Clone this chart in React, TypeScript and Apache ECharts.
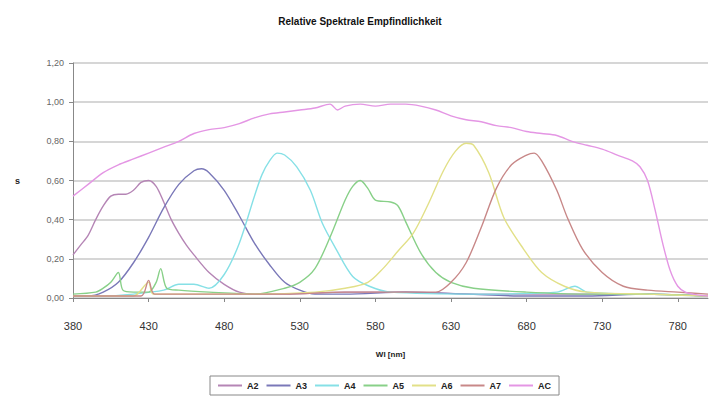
import { useEffect, useRef } from 'react'
import * as echarts from 'echarts'

type Pt = [number, number]

const seriesNames = ['A2', 'A3', 'A4', 'A5', 'A6', 'A7', 'AC']
const seriesColors = ['#b585b5', '#7a78b8', '#86e0e6', '#88d088', '#e2e088', '#c88888', '#e496e4']
const xTicks = [380, 430, 480, 530, 580, 630, 680, 730, 780]

const a2: Pt[] = [
  [380, 0.22], [385, 0.27], [390, 0.32], [395, 0.4], [400, 0.47], [405, 0.52], [410, 0.53],
  [415, 0.53], [420, 0.55], [425, 0.59], [430, 0.6], [435, 0.57], [440, 0.49], [445, 0.4],
  [450, 0.33], [455, 0.27], [460, 0.22], [470, 0.13], [480, 0.07], [490, 0.03], [500, 0.02],
  [520, 0.02], [560, 0.03], [600, 0.03], [650, 0.02], [700, 0.02], [750, 0.02], [800, 0.01],
]
const a3: Pt[] = [
  [380, 0.01], [390, 0.01], [400, 0.03], [410, 0.08], [420, 0.18], [430, 0.31], [440, 0.46],
  [450, 0.58], [460, 0.65], [465, 0.66], [470, 0.64], [480, 0.55], [490, 0.42], [500, 0.28],
  [510, 0.17], [520, 0.08], [530, 0.04], [540, 0.02], [560, 0.02], [600, 0.03], [640, 0.02],
  [680, 0.01], [720, 0.01], [760, 0.02], [800, 0.01],
]
const a4: Pt[] = [
  [380, 0.01], [400, 0.01], [420, 0.02], [440, 0.04], [450, 0.07], [460, 0.07], [470, 0.05],
  [480, 0.12], [490, 0.28], [500, 0.52], [505, 0.63], [510, 0.7], [515, 0.74], [520, 0.73],
  [528, 0.67], [537, 0.55], [545, 0.38], [554, 0.25], [565, 0.11], [576, 0.06], [590, 0.03],
  [650, 0.02], [700, 0.03], [712, 0.06], [720, 0.03], [760, 0.02], [800, 0.01],
]
const a5: Pt[] = [
  [380, 0.02], [395, 0.03], [400, 0.05], [405, 0.08], [410, 0.13], [413, 0.04], [420, 0.03],
  [430, 0.03], [435, 0.08], [438, 0.15], [442, 0.05], [450, 0.04], [470, 0.03], [500, 0.02],
  [520, 0.05], [530, 0.08], [540, 0.15], [550, 0.31], [560, 0.5], [565, 0.57], [570, 0.6],
  [575, 0.56], [580, 0.5], [590, 0.49], [595, 0.47], [600, 0.39], [610, 0.23], [620, 0.13],
  [630, 0.08], [645, 0.05], [680, 0.03], [720, 0.02], [760, 0.02], [800, 0.01],
]
const a6: Pt[] = [
  [380, 0.01], [420, 0.01], [430, 0.08], [433, 0.02], [460, 0.02], [500, 0.02], [540, 0.03],
  [560, 0.05], [575, 0.08], [585, 0.15], [595, 0.24], [605, 0.33], [615, 0.48], [625, 0.65],
  [633, 0.75], [640, 0.79], [645, 0.78], [655, 0.64], [665, 0.41], [678, 0.25], [690, 0.13],
  [705, 0.06], [720, 0.03], [760, 0.02], [800, 0.01],
]
const a7: Pt[] = [
  [380, 0.01], [425, 0.01], [430, 0.09], [434, 0.02], [480, 0.02], [520, 0.02], [560, 0.03],
  [600, 0.03], [620, 0.03], [630, 0.08], [640, 0.18], [650, 0.36], [660, 0.56], [670, 0.68],
  [680, 0.73], [685, 0.74], [690, 0.7], [700, 0.55], [707, 0.41], [717, 0.25], [730, 0.13],
  [744, 0.06], [760, 0.04], [780, 0.03], [800, 0.02],
]
const ac: Pt[] = [
  [380, 0.52], [390, 0.58], [400, 0.64], [410, 0.68], [420, 0.71], [430, 0.74], [440, 0.77],
  [450, 0.8], [460, 0.84], [470, 0.86], [480, 0.87], [490, 0.89], [500, 0.92], [510, 0.94],
  [520, 0.95], [530, 0.96], [540, 0.97], [550, 0.99], [555, 0.96], [560, 0.98], [570, 0.99],
  [580, 0.98], [590, 0.99], [600, 0.99], [610, 0.98], [620, 0.96], [630, 0.93], [640, 0.91],
  [650, 0.9], [660, 0.88], [670, 0.87], [680, 0.85], [690, 0.84], [700, 0.83], [710, 0.8],
  [720, 0.78], [730, 0.76], [740, 0.73], [750, 0.7], [755, 0.67], [760, 0.6], [765, 0.45],
  [770, 0.28], [775, 0.14], [780, 0.06], [785, 0.03], [790, 0.02], [800, 0.01],
]
const seriesData = [a2, a3, a4, a5, a6, a7, ac]

const FONT = '"Liberation Sans", Arial, sans-serif'

export default function App() {
  const ref = useRef<HTMLDivElement>(null)

  useEffect(() => {
    if (!ref.current) return
    document.body.style.margin = '0'
    const chart = echarts.init(ref.current, undefined, { renderer: 'svg' })

    chart.setOption({
      animation: false,
      backgroundColor: '#fff',
      color: seriesColors,
      textStyle: { fontFamily: FONT },
      title: {
        text: 'Relative Spektrale Empfindlichkeit',
        left: 'center',
        top: 11,
        textStyle: { fontSize: 10, fontWeight: 'bold', color: '#111', fontFamily: FONT },
      },
      grid: { left: 73, right: 12, top: 63, bottom: 105 },
      legend: {
        data: seriesNames.map((name, i) => ({
          name,
          icon: 'rect',
          itemStyle: { color: seriesColors[i], borderWidth: 0 },
          lineStyle: { color: seriesColors[i], width: 0 },
        })),
        left: 210,
        top: 376,
        itemWidth: 24,
        itemHeight: 2,
        itemGap: 8,
        padding: [5, 8],
        borderColor: '#888',
        borderWidth: 1,
        textStyle: { fontSize: 9, color: '#222', fontWeight: 'bold', fontFamily: FONT },
      },
      xAxis: {
        type: 'value',
        min: 380,
        max: 800,
        name: 'Wl [nm]',
        nameLocation: 'middle',
        nameGap: 52,
        nameTextStyle: { fontSize: 8, fontWeight: 'bold', color: '#222' },
        axisLine: { lineStyle: { color: '#888' } },
        axisTick: { customValues: xTicks, length: 4, lineStyle: { color: '#888' } },
        axisLabel: {
          customValues: xTicks,
          fontSize: 11,
          color: '#333',
          margin: 22,
        },
        splitLine: { show: false },
      },
      yAxis: {
        type: 'value',
        min: 0,
        max: 1.2,
        interval: 0.2,
        name: 's',
        nameLocation: 'middle',
        nameRotate: 0,
        nameGap: 53,
        nameTextStyle: { fontSize: 9, fontWeight: 'bold', color: '#222' },
        axisLine: { show: true, lineStyle: { color: '#888' } },
        axisTick: { show: true, length: 4, lineStyle: { color: '#888' } },
        axisLabel: {
          fontSize: 9,
          color: '#666',
          margin: 9,
          formatter: (v: number) => v.toFixed(2).replace('.', ','),
        },
        splitLine: { lineStyle: { color: '#c8c8c8', width: 1.5 } },
      },
      series: seriesNames.map((name, i) => ({
        name,
        type: 'line',
        data: seriesData[i],
        showSymbol: false,
        smooth: 0.3,
        itemStyle: { color: seriesColors[i] },
        lineStyle: { width: 1.4, color: seriesColors[i] },
      })),
    })

    return () => chart.dispose()
  }, [])

  return <div ref={ref} style={{ width: 720, height: 403 }} />
}
